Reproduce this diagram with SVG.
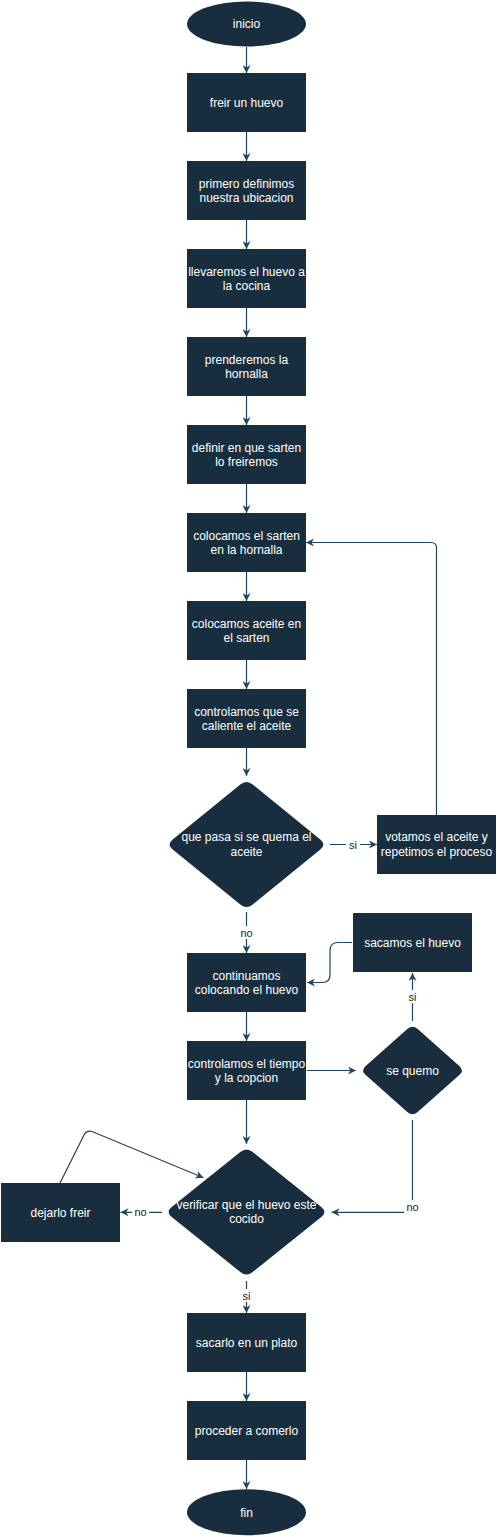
<svg xmlns="http://www.w3.org/2000/svg" width="497" height="1537" viewBox="0 0 497 1537">
<style>
.n{fill:#182E3E;stroke:none}
.t{fill:#FFFFFF;font-family:"Liberation Sans",Arial,sans-serif;font-size:12px;text-anchor:middle}
.c{fill:none;stroke:#23445D;stroke-width:1.2}
.lb{fill:#FFFFFF}
.l{fill:#1a1a1a;font-family:"Liberation Sans",Arial,sans-serif;font-size:11px;text-anchor:middle}
</style>
<defs>
<marker id="a" viewBox="0 0 10 10" refX="10" refY="5" markerWidth="8" markerHeight="8" markerUnits="userSpaceOnUse" orient="auto">
<path d="M0 0 L10 5 L0 10 L3 5 Z" fill="#23445D"/>
</marker>
</defs>
<rect width="497" height="1537" fill="#FFFFFF"/>
<g id="connectors">
<path class="c" marker-end="url(#a)" d="M246.5 47 L246.5 73"/>
<path class="c" marker-end="url(#a)" d="M246.5 132 L246.5 161"/>
<path class="c" marker-end="url(#a)" d="M246.5 220 L246.5 249"/>
<path class="c" marker-end="url(#a)" d="M246.5 308 L246.5 337"/>
<path class="c" marker-end="url(#a)" d="M246.5 396 L246.5 425"/>
<path class="c" marker-end="url(#a)" d="M246.5 484 L246.5 513"/>
<path class="c" marker-end="url(#a)" d="M246.5 572 L246.5 601"/>
<path class="c" marker-end="url(#a)" d="M246.5 660 L246.5 689"/>
<path class="c" marker-end="url(#a)" d="M246.5 748 L246.5 776"/>
<path class="c" marker-end="url(#a)" d="M246.5 912 L246.5 953"/>
<path class="c" marker-end="url(#a)" d="M246.5 1012 L246.5 1041"/>
<path class="c" marker-end="url(#a)" d="M246.5 1100 L246.5 1144"/>
<path class="c" marker-end="url(#a)" d="M246.5 1281 L246.5 1313"/>
<path class="c" marker-end="url(#a)" d="M246.5 1372 L246.5 1401"/>
<path class="c" marker-end="url(#a)" d="M246.5 1460 L246.5 1489"/>
<path class="c" marker-end="url(#a)" d="M330 844.5 L377 844.5"/>
<path class="c" marker-end="url(#a)" d="M436.5 815 L436.5 548 Q436.5 542.5 431 542.5 L306 542.5"/>
<path class="c" marker-end="url(#a)" d="M307 1070.5 L356 1070.5"/>
<path class="c" marker-end="url(#a)" d="M412.5 1021 L412.5 973"/>
<path class="c" marker-end="url(#a)" d="M352 942.5 L338 942.5 Q330 942.5 330 950.5 L330 975 Q330 982.5 322 982.5 L307 982.5"/>
<path class="c" marker-end="url(#a)" d="M412.5 1120 L412.5 1212.3 L331.5 1212.3"/>
<path class="c" marker-end="url(#a)" d="M162 1212.3 L120.5 1212.3"/>
<path class="c" marker-end="url(#a)" d="M60 1183 L84 1135 Q86.5 1130 92 1131.5 L203.5 1177.7"/>
<rect class="lb" x="238" y="926" width="17" height="13"/>
<text class="l" x="246.5" y="936.5">no</text>
<rect class="lb" x="346" y="838" width="14" height="13"/>
<text class="l" x="353" y="848.5">si</text>
<rect class="lb" x="406" y="990" width="13" height="13"/>
<text class="l" x="412.5" y="1000.5">si</text>
<rect class="lb" x="404" y="1200" width="17" height="13"/>
<text class="l" x="412.5" y="1210.5">no</text>
<rect class="lb" x="132" y="1206" width="17" height="13"/>
<text class="l" x="140.5" y="1216">no</text>
<rect class="lb" x="240" y="1289" width="13" height="13"/>
<text class="l" x="246.5" y="1299.5">si</text>
</g>
<g id="inicio">
<ellipse class="n" cx="246.5" cy="24" rx="59.5" ry="22.5"/>
<text class="t" x="246.5" y="28.3">inicio</text>
</g>
<g id="freir">
<rect class="n" x="187" y="73" width="119" height="59"/>
<text class="t" x="246.5" y="106.8">freir un huevo</text>
</g>
<g id="ubicacion">
<rect class="n" x="187" y="161" width="119" height="59"/>
<text class="t" x="246.5" y="187.6">primero definimos<tspan x="246.5" dy="14.5">nuestra ubicacion</tspan></text>
</g>
<g id="cocina">
<rect class="n" x="187" y="249" width="119" height="59"/>
<text class="t" x="246.5" y="275.6">llevaremos el huevo a<tspan x="246.5" dy="14.5">la cocina</tspan></text>
</g>
<g id="hornalla">
<rect class="n" x="187" y="337" width="119" height="59"/>
<text class="t" x="246.5" y="363.6">prenderemos la<tspan x="246.5" dy="14.5">hornalla</tspan></text>
</g>
<g id="sarten">
<rect class="n" x="187" y="425" width="119" height="59"/>
<text class="t" x="246.5" y="451.6">definir en que sarten<tspan x="246.5" dy="14.5">lo freiremos</tspan></text>
</g>
<g id="colocar-sarten">
<rect class="n" x="187" y="513" width="119" height="59"/>
<text class="t" x="246.5" y="539.6">colocamos el sarten<tspan x="246.5" dy="14.5">en la hornalla</tspan></text>
</g>
<g id="aceite">
<rect class="n" x="187" y="601" width="119" height="59"/>
<text class="t" x="246.5" y="627.6">colocamos aceite en<tspan x="246.5" dy="14.5">el sarten</tspan></text>
</g>
<g id="calentar">
<rect class="n" x="187" y="689" width="119" height="59"/>
<text class="t" x="246.5" y="715.6">controlamos que se<tspan x="246.5" dy="14.5">caliente el aceite</tspan></text>
</g>
<g id="quema-aceite">
<path class="n" d="M240.3 784.55 Q246.5 779.5 252.7 784.55 L320.3 839.45 Q326.5 844.5 320.3 849.55 L252.7 904.45 Q246.5 909.5 240.3 904.45 L172.7 849.55 Q166.5 844.5 172.7 839.45 Z"/>
<text class="t" x="246.5" y="841.3">que pasa si se quema el<tspan x="246.5" dy="14.5">aceite</tspan></text>
</g>
<g id="votamos">
<rect class="n" x="377" y="815" width="119" height="59"/>
<text class="t" x="436.5" y="841.3">votamos el aceite y<tspan x="436.5" dy="14.5">repetimos el proceso</tspan></text>
</g>
<g id="continuamos">
<rect class="n" x="187" y="953" width="119" height="59"/>
<text class="t" x="246.5" y="979.6">continuamos<tspan x="246.5" dy="14.5">colocando el huevo</tspan></text>
</g>
<g id="sacamos">
<rect class="n" x="353" y="913" width="119" height="59"/>
<text class="t" x="412.5" y="946.8">sacamos el huevo</text>
</g>
<g id="tiempo">
<rect class="n" x="187" y="1041" width="119" height="59"/>
<text class="t" x="246.5" y="1067.6">controlamos el tiempo<tspan x="246.5" dy="14.5">y la copcion</tspan></text>
</g>
<g id="se-quemo">
<path class="n" d="M407.3 1029.1 Q412.5 1024.5 417.7 1029.1 L459.3 1065.9 Q464.5 1070.5 459.3 1075.1 L417.7 1111.9 Q412.5 1116.5 407.3 1111.9 L365.7 1075.1 Q360.5 1070.5 365.7 1065.9 Z"/>
<text class="t" x="412.5" y="1074.5">se quemo</text>
</g>
<g id="verificar">
<path class="n" d="M240.3 1152.05 Q246.5 1147 252.7 1152.05 L321.3 1206.95 Q327.5 1212 321.3 1217.05 L252.7 1271.95 Q246.5 1277 240.3 1271.95 L171.7 1217.05 Q165.5 1212 171.7 1206.95 Z"/>
<text class="t" x="246.5" y="1208.8">verificar que el huevo este<tspan x="246.5" dy="14.5">cocido</tspan></text>
</g>
<g id="dejarlo">
<rect class="n" x="1" y="1183" width="119" height="59"/>
<text class="t" x="60.5" y="1216.8">dejarlo freir</text>
</g>
<g id="plato">
<rect class="n" x="187" y="1313" width="119" height="59"/>
<text class="t" x="246.5" y="1346.8">sacarlo en un plato</text>
</g>
<g id="comer">
<rect class="n" x="187" y="1401" width="119" height="59"/>
<text class="t" x="246.5" y="1434.8">proceder a comerlo</text>
</g>
<g id="fin">
<ellipse class="n" cx="246.5" cy="1512.3" rx="59.5" ry="23"/>
<text class="t" x="246.5" y="1516.6">fin</text>
</g>
</svg>
